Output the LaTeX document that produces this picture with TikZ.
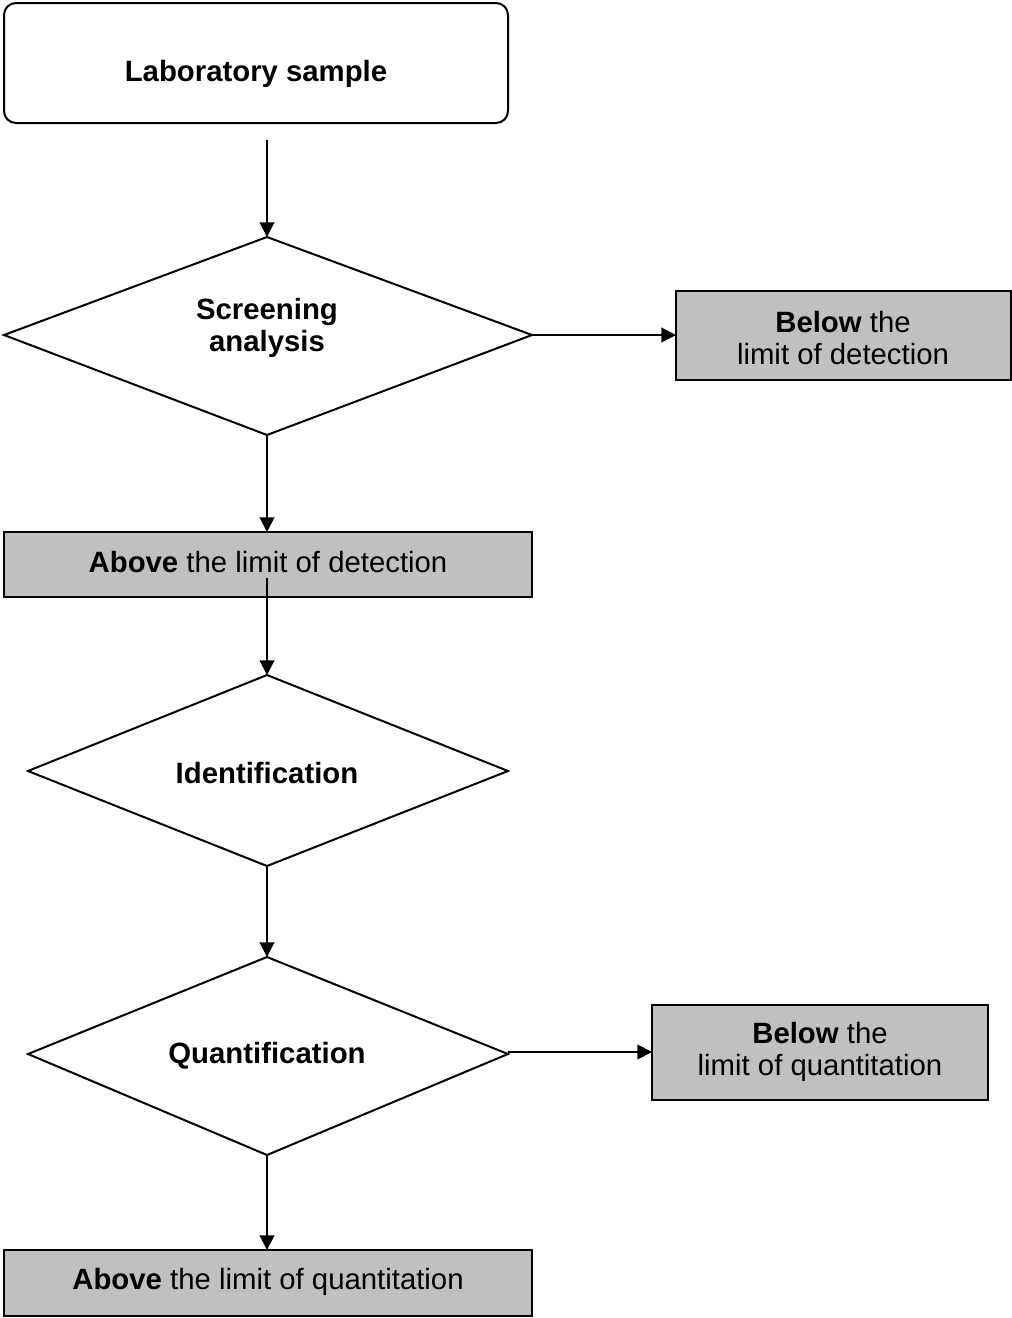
\documentclass[tikz,border=0pt]{standalone}
\usepackage{fontspec}
\setmainfont{Liberation Sans}
\usetikzlibrary{arrows.meta}
\definecolor{boxgray}{HTML}{C0C0C0}
\begin{document}
\begin{tikzpicture}[x=0.75pt,y=-0.75pt,
  every node/.style={font=\fontsize{22}{24}\selectfont},
  lbl/.style={align=center, inner sep=0pt},
  outline/.style={draw=black, line width=1.5pt},
  graybox/.style={outline, fill=boxgray},
  conn/.style={line width=1.5pt, -{Triangle[length=11pt,width=11pt]}}
]
\useasboundingbox (0,0) rectangle (1011,1318);

% Laboratory sample
\draw[outline, rounded corners=9pt] (4,3) rectangle (508,123);
\node[lbl] (lab) at (256,74) {\textbf{Laboratory sample}};
\coordinate (labout) at (267,140);

% Screening diamond
\coordinate (sT) at (267,237);
\coordinate (sB) at (267,435);
\coordinate (sL) at (4,335);
\coordinate (sR) at (532,335);
\draw[outline, line join=miter] (sT) -- (sR) -- (sB) -- (sL) -- cycle;
\node[lbl] (scr) at (267,328) {\textbf{Screening}\\\textbf{analysis}};

% Below limit of detection
\draw[graybox] (676,291) rectangle (1011,380);
\coordinate (bdL) at (676,335);
\node[lbl] (bd) at (843,338) {\textbf{Below} the\\limit of detection};

% Above limit of detection
\draw[graybox] (4,532) rectangle (532,597);
\coordinate (adT) at (267,532);
\coordinate (adout) at (267,578);
\node[lbl] (ad) at (268,562) {\textbf{Above} the limit of detection};

% Identification diamond
\coordinate (iT) at (267,675);
\coordinate (iB) at (267,866);
\coordinate (iL) at (28,771);
\coordinate (iR) at (508,771);
\draw[outline, line join=miter] (iT) -- (iR) -- (iB) -- (iL) -- cycle;
\node[lbl] (ident) at (267,773) {\textbf{Identification}};

% Quantification diamond
\coordinate (qT) at (267,957);
\coordinate (qB) at (267,1155);
\coordinate (qL) at (28,1054);
\coordinate (qR) at (508,1052);
\draw[outline, line join=miter] (qT) -- (508,1054) -- (qB) -- (qL) -- cycle;
\node[lbl] (quant) at (267,1056) {\textbf{Quantification}};

% Below limit of quantitation
\draw[graybox] (652,1005) rectangle (988,1100);
\coordinate (bqL) at (652,1052);
\node[lbl] (bq) at (820,1052) {\textbf{Below} the\\limit of quantitation};

% Above limit of quantitation
\draw[graybox] (4,1250) rectangle (532,1316);
\coordinate (aqT) at (267,1250);
\node[lbl] (aq) at (268,1282) {\textbf{Above} the limit of quantitation};

% Connectors
\draw[conn] (labout) -- (sT);
\draw[conn] (sR) -- (bdL);
\draw[conn] (sB) -- (adT);
\draw[conn] (adout) -- (iT);
\draw[conn] (iB) -- (qT);
\draw[conn] (qR) -- (bqL);
\draw[conn] (qB) -- (aqT);
\end{tikzpicture}
\end{document}
